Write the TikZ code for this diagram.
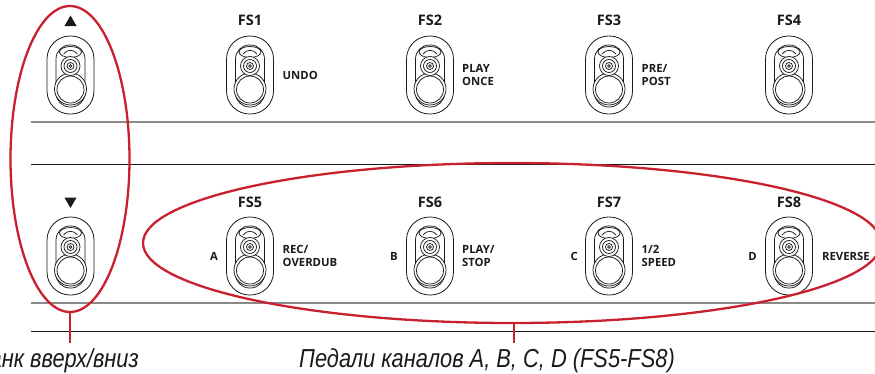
\documentclass[tikz,border=0pt]{standalone}
\usepackage{fontspec}
\setmainfont{Liberation Sans}
\newfontfamily\pedalfont{Open Sans}
\usetikzlibrary{positioning, shapes.geometric}
\definecolor{coloredge}{HTML}{1A1A1A}
\definecolor{colorrule}{HTML}{8A8A8A}
\definecolor{colormark}{HTML}{C9202E}

\begin{document}
\begin{tikzpicture}[
    x=1pt, y=-1pt,
    % Footswitch outline with its inner parts
    pedal/.style={
        rectangle,
        draw=coloredge,
        fill=white,
        rounded corners=23pt,
        minimum width=47pt,
        minimum height=78pt,
        inner sep=0pt,
        line width=0.8pt,
        path picture={
            \begin{scope}[shift={(path picture bounding box.center)}, line width=0.75pt, draw=coloredge]
                \draw[rounded corners=14pt] (-14.5,-30) rectangle (14.5,32);
                \draw[fill=white] (0,14) circle (16);
                \draw[fill=white] (0,14.5) circle (13.5);
                \draw[fill=white] (0,-23) ellipse (11 and 5.5);
                \draw (-7,-21) .. controls (-3,-26) and (3,-26) .. (7,-21);
                \draw[fill=white] (0,-9) circle (9.5);
                \draw (0,-9) circle (6.5);
                \draw (0,-9) circle (3.5);
                \draw (0,-9) circle (1.3);
            \end{scope}
        }
    },
    % Bold names above the pedals
    fsname/.style={font=\pedalfont\bfseries\fontsize{14.5}{15}\selectfont, text=coloredge, inner sep=0pt},
    % Small function labels beside the pedals
    fslabel/.style={font=\pedalfont\bfseries\fontsize{11.3}{13.5}\selectfont, text=coloredge, align=left, inner sep=0pt},
    triangle/.style={regular polygon, regular polygon sides=3, fill=coloredge, inner sep=0pt, minimum size=14pt},
    oval/.style={ellipse, draw=colormark, line width=2.3pt, inner sep=0pt},
    caption/.style={font=\itshape\fontsize{26}{28}\selectfont\addfontfeature{FakeStretch=0.84}, text=coloredge, inner xsep=0pt, inner ysep=5pt},
    leader/.style={draw=colormark, line width=2.3pt},
    thickrule/.style={draw=colorrule, line width=1.6pt},
    thinrule/.style={draw=coloredge, line width=0.7pt}
]
\useasboundingbox (0,0) rectangle (875,373);

% Rules
\draw[thickrule] (31,122) -- (875,122);
\draw[thinrule] (31,164) -- (875,164);
\draw[thickrule] (31,303) -- (875,303);
\draw[thinrule] (31,331) -- (875,331);

% Top row
\node[triangle] (up) at (70.5,22.5) {};
\node[pedal] (bankup) at (70.5,75) {};

\node[fsname] (fsone) at (250,20.5) {FS1};
\node[pedal] (pedalone) at (250,75) {};
\node[fslabel, anchor=west] (undo) at (282.5,75) {UNDO};

\node[fsname] (fstwo) at (430,20.5) {FS2};
\node[pedal] (pedaltwo) at (430,75) {};
\node[fslabel, anchor=west] (once) at (462,75) {PLAY\\ONCE};

\node[fsname] (fsthree) at (609,20.5) {FS3};
\node[pedal] (pedalthree) at (609,75) {};
\node[fslabel, anchor=west] (prepost) at (641.5,75) {PRE/\\POST};

\node[fsname] (fsfour) at (789,20.5) {FS4};
\node[pedal] (pedalfour) at (789,75) {};

% Bottom row
\node[triangle, shape border rotate=180] (down) at (70.5,201) {};
\node[pedal] (bankdown) at (70.5,256) {};

\node[fsname] (fsfive) at (250,202) {FS5};
\node[pedal] (pedalfive) at (250,256) {};
\node[fslabel, anchor=east] (cha) at (218,256) {A};
\node[fslabel, anchor=west] (overdub) at (282.5,256) {REC/\\OVERDUB};

\node[fsname] (fssix) at (430,202) {FS6};
\node[pedal] (pedalsix) at (430,256) {};
\node[fslabel, anchor=east] (chb) at (398,256) {B};
\node[fslabel, anchor=west] (stop) at (462,256) {PLAY/\\STOP};

\node[fsname] (fsseven) at (609,202) {FS7};
\node[pedal] (pedalseven) at (609,256) {};
\node[fslabel, anchor=east] (chc) at (578,256) {C};
\node[fslabel, anchor=west] (speed) at (641.5,256) {1/2\\SPEED};

\node[fsname] (fseight) at (789,202) {FS8};
\node[pedal] (pedaleight) at (789,256) {};
\node[fslabel, anchor=east] (chd) at (757,256) {D};
\node[fslabel, anchor=west] (reverse) at (822,256) {REVERSE};

% Red marks
\node[oval, minimum width=119pt, minimum height=306pt] (bankoval) at (70,159) {};
\node[oval, minimum width=738pt, minimum height=160pt] (channeloval) at (512,243) {};

% Captions
\node[caption, anchor=base east] (bankcaption) at (139,367) {анк вверх/вниз};
\node[caption, anchor=base west] (channelcaption) at (299,367) {Педали каналов A, B, C, D (FS5-FS8)};

\coordinate (channelfoot) at ([xshift=2pt]channeloval.south);
\draw[leader] (bankoval.south) -- (bankoval.south |- bankcaption.north);
\draw[leader] (channelfoot) -- (channelfoot |- channelcaption.north);

\end{tikzpicture}
\end{document}
